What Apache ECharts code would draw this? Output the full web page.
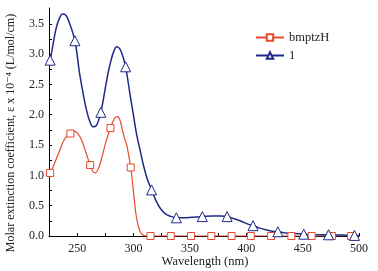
<!DOCTYPE html>
<html>
<head>
<meta charset="utf-8">
<script src="https://cdn.jsdelivr.net/npm/echarts@6/dist/echarts.min.js"></script>
<style>
  html, body { margin: 0; padding: 0; background: #fff; }
  #chart { width: 378px; height: 271px; }
</style>
</head>
<body>
<div id="chart"></div>
<script>
// curve of bmptzH (wavelength nm, epsilon x 10^-4)
var redCurveX = [225, 229, 233, 237, 240, 247, 250, 254, 258, 264, 266, 269, 272, 275, 282, 284, 286, 288, 290, 292, 294, 300, 302, 304, 306, 308, 311, 500];
var redCurveY = [1.03, 1.16, 1.34, 1.53, 1.63, 1.73, 1.70, 1.58, 1.36, 1.06, 1.04, 1.12, 1.30, 1.52, 1.90, 1.96, 1.97, 1.91, 1.76, 1.61, 1.50, 0.72, 0.38, 0.18, 0.07, 0.02, 0.0, 0.0];
// square markers of bmptzH
var redMarkX = [226, 244, 261.5, 279.5, 297.5, 315, 333, 351, 369, 387, 404, 422, 440, 458, 476, 493];
var redMarkY = [1.04, 1.69, 1.17, 1.78, 1.13, 0, 0, 0, 0, 0, 0, 0, 0, 0, 0, 0];

// curve of 1
var blueCurveX = [225, 231, 234, 237, 240, 243, 252, 255, 258, 261, 264, 267, 276, 279, 282, 285, 288, 291, 297, 300, 303, 306, 309, 312, 320, 324, 328, 332, 345, 352, 370, 378, 390, 396, 401, 412, 418, 423, 435, 442, 460, 485, 500];
var blueCurveY = [2.88, 3.40, 3.58, 3.66, 3.64, 3.52, 2.70, 2.38, 2.10, 1.90, 1.80, 1.82, 2.55, 2.82, 3.02, 3.12, 3.08, 2.93, 2.32, 1.98, 1.65, 1.40, 1.15, 0.95, 0.58, 0.45, 0.37, 0.33, 0.30, 0.31, 0.33, 0.33, 0.28, 0.24, 0.20, 0.13, 0.10, 0.08, 0.05, 0.04, 0.025, 0.015, 0.01];
// triangle markers of 1
var blueMarkX = [226, 248, 271, 293, 316, 338, 361, 383, 406, 428, 451, 473, 496];
var blueMarkY = [2.90, 3.22, 2.04, 2.79, 0.76, 0.30, 0.32, 0.32, 0.17, 0.07, 0.03, 0.02, 0.01];

var xLabels = [250, 300, 350, 400, 450, 500];
var xTicks = [225, 250, 275, 300, 325, 350, 375, 400, 425, 450, 475, 500];
var yLabels = [0, 0.5, 1.0, 1.5, 2.0, 2.5, 3.0, 3.5];
var yTicks = [0, 0.25, 0.5, 0.75, 1.0, 1.25, 1.5, 1.75, 2.0, 2.25, 2.5, 2.75, 3.0, 3.25, 3.5];

function buildData(cx, cy, mx, my) {
    var pts = [];
    for (var i = 0; i < cx.length; i++) {
        pts.push({ value: [cx[i], cy[i]], symbol: 'none' });
    }
    for (var j = 0; j < mx.length; j++) {
        pts.push({ value: [mx[j], my[j]] });
    }
    pts.sort(function (a, b) { return a.value[0] - b.value[0]; });
    return pts;
}

var serif = '"Liberation Serif", "DejaVu Serif", serif';
var red = '#e8482c';
var blue = '#1e2a86';

var chart = echarts.init(document.getElementById('chart'));
chart.setOption({
    animation: false,
    backgroundColor: '#fff',
    grid: { left: 49, right: 19, top: 8, bottom: 35, outerBoundsMode: 'none', containLabel: false },
    legend: {
        orient: 'vertical',
        left: 250,
        top: 26,
        itemWidth: 28,
        itemHeight: 8,
        itemGap: 5,
        textStyle: { fontFamily: serif, fontSize: 12.5, color: '#222' },
        data: ['bmptzH', '1']
    },
    // axis titles, placed by hand
    graphic: [{
        type: 'text',
        x: 11,
        y: 133,
        rotation: Math.PI / 2,
        style: {
            text: 'Molar extinction coefficient, \u03b5 x 10\u207b\u2074 (L/mol/cm)',
            fontFamily: serif,
            fontSize: 12,
            fill: '#222',
            align: 'center',
            verticalAlign: 'middle'
        }
    }, {
        type: 'text',
        x: 205,
        y: 262,
        style: {
            text: 'Wavelength (nm)',
            fontFamily: serif,
            fontSize: 12.5,
            fill: '#222',
            align: 'center',
            verticalAlign: 'middle'
        }
    }],
    xAxis: {
        type: 'value',
        min: 225,
        max: 500,
        axisLine: { lineStyle: { color: '#000', width: 1 } },
        axisTick: { inside: true, length: 3, customValues: xTicks, lineStyle: { color: '#000' } },
        axisLabel: { customValues: xLabels, fontFamily: serif, fontSize: 12, color: '#222', margin: 7 },
        splitLine: { show: false }
    },
    yAxis: {
        type: 'value',
        min: 0,
        max: 3.76,
        axisLine: { show: true, lineStyle: { color: '#000', width: 1 } },
        axisTick: { show: true, inside: true, length: 3, customValues: yTicks, lineStyle: { color: '#000' } },
        axisLabel: {
            customValues: yLabels,
            fontFamily: serif, fontSize: 12, color: '#222', margin: 5,
            formatter: function (v) { return v.toFixed(1); }
        },
        splitLine: { show: false }
    },
    series: [
        {
            name: 'bmptzH',
            type: 'line',
            smooth: 0.35,
            symbol: 'rect',
            symbolSize: 7,
            showAllSymbol: true,
            lineStyle: { color: red, width: 1.2 },
            itemStyle: { color: '#fff', borderColor: red, borderWidth: 1 },
            data: buildData(redCurveX, redCurveY, redMarkX, redMarkY)
        },
        {
            name: '1',
            type: 'line',
            smooth: 0.35,
            symbol: 'triangle',
            symbolSize: 10,
            showAllSymbol: true,
            lineStyle: { color: blue, width: 1.5 },
            itemStyle: { color: '#fff', borderColor: blue, borderWidth: 1 },
            data: buildData(blueCurveX, blueCurveY, blueMarkX, blueMarkY)
        }
    ]
});
</script>
</body>
</html>
